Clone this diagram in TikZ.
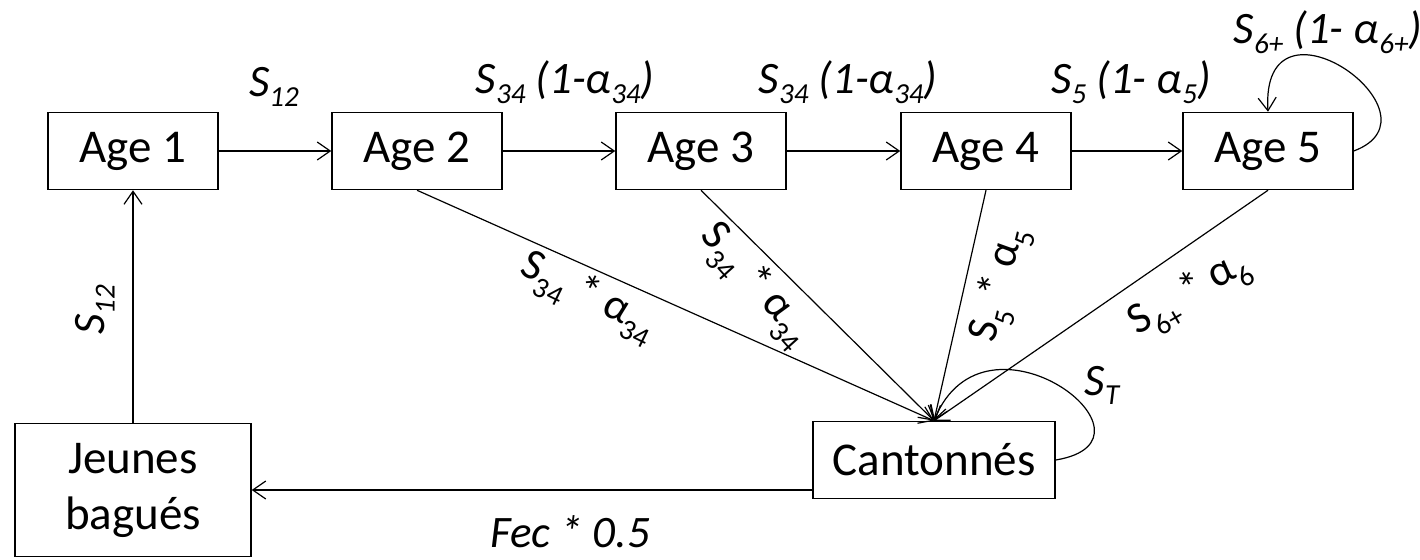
\documentclass[tikz,border=0pt]{standalone}
\usepackage{fontspec}
\setmainfont{Carlito}
\usetikzlibrary{arrows.meta}
\newcommand\lsub[1]{\raisebox{-0.22em}{\fontsize{29}{29}\selectfont #1}}
\newcommand\dsub[1]{\raisebox{-0.3em}{\fontsize{29}{29}\selectfont #1}}
\begin{document}
\begin{tikzpicture}[x=1pt,y=-1pt,
  box/.style={draw,line width=1.5pt,inner sep=0pt,align=center,
    font=\fontsize{47}{56}\selectfont},
  agebox/.style={box,minimum width=170pt,minimum height=77pt},
  arr/.style={line width=1.2pt,-{Straight Barb[length=13pt,width=18pt,line width=1.2pt]}},
  toplbl/.style={anchor=base,inner sep=0pt,font=\fontsize{45}{50}\selectfont\itshape},
  diaglbl/.style={inner sep=0pt,font=\fontsize{44}{50}\selectfont}]
\useasboundingbox (0,0) rectangle (1420,559);
% boxes
\node[agebox] (a1) at (133,151) {Age 1};
\node[agebox] (a2) at (417,151) {Age 2};
\node[agebox] (a3) at (701,151) {Age 3};
\node[agebox] (a4) at (986,151) {Age 4};
\node[agebox] (a5) at (1268,151) {Age 5};
\node[box,minimum width=236pt,minimum height=133pt] (jb) at (133,490) {Jeunes\\bagués};
\node[box,minimum width=242pt,minimum height=77pt] (cant) at (934,460) {Cantonnés};
% horizontal arrows
\draw[arr] (a1) -- (a2);
\draw[arr] (a2) -- (a3);
\draw[arr] (a3) -- (a4);
\draw[arr] (a4) -- (a5);
\draw[arr] (jb) -- (a1);
\draw[arr] (cant.west |- jb.east) -- (jb.east);
% diagonals
\draw[arr] (a2.south) -- (cant.north);
\draw[arr] (a3.south) -- (cant.north);
\draw[arr] (a4.south) -- (cant.north);
\draw[arr] (a5.south) -- (cant.north);
% self loops
\draw[arr] (a5.east) .. controls (1450,115) and (1260,-20) .. (a5.north);
\draw[arr] (cant.east) .. controls (1175,440) and (985,295) .. (cant.north);
% top labels
\node[toplbl] (l12) at (274,97) {S\lsub{12}};
\node[toplbl] (l23) at (565,94) {S\lsub{34} (1-α\lsub{34})};
\node[toplbl] (l34) at (848,94) {S\lsub{34} (1-α\lsub{34})};
\node[toplbl] (l45) at (1131,94) {S\lsub{5} (1- α\lsub{5})};
\node[toplbl] (l55) at (1328,44) {S\lsub{6+} (1- α\lsub{6+})};
\node[toplbl] (lst) at (1102,395) {S\lsub{T}};
\node[toplbl] (lfec) at (570,547) {Fec * 0.5};
\node[diaglbl,rotate=90,font=\fontsize{45}{50}\selectfont\itshape] (lj) at (95,310) {S\lsub{12}};
% diagonal labels
\node[diaglbl,rotate=-26] (d2) at (588,297) {S\dsub{34} * α\dsub{34}};
\node[diaglbl,rotate=-48] (d3) at (755,285) {S\dsub{34} * α\dsub{34}};
\node[diaglbl,rotate=76] (d4) at (1000,285) {S\dsub{5} * α\dsub{5}};
\node[diaglbl,rotate=30] (d5) at (1190,295) {S\dsub{6+} * α\dsub{6}};
\end{tikzpicture}
\end{document}
